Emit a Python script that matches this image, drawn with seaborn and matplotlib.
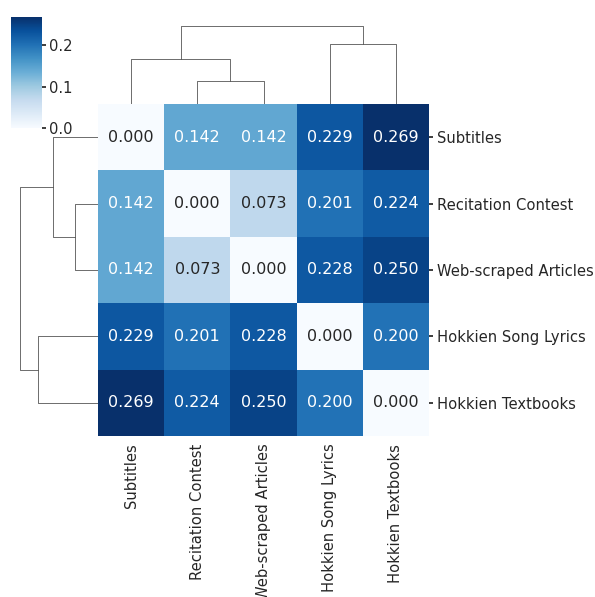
import numpy as np
import pandas as pd
import seaborn as sns
import matplotlib.pyplot as plt

# 数据
labels = ['Subtitles', 'Recitation Contest', 'Web-scraped Articles',
          'Hokkien Song Lyrics', 'Hokkien Textbooks']
subtitles = [0.000, 0.142, 0.142, 0.229, 0.269]
recitation = [0.142, 0.000, 0.073, 0.201, 0.224]
web = [0.142, 0.073, 0.000, 0.228, 0.250]
song = [0.229, 0.201, 0.228, 0.000, 0.200]
textbooks = [0.269, 0.224, 0.250, 0.200, 0.000]

df = pd.DataFrame([subtitles, recitation, web, song, textbooks],
                  index=labels, columns=labels)

sns.set_theme(style='white')

g = sns.clustermap(df, cmap='Blues', annot=True, fmt='.3f',
                   figsize=(5.95, 5.97), annot_kws={'size': 11.5})
g.ax_heatmap.tick_params(labelsize=10.6, length=3, pad=2.5)
g.cax.tick_params(labelsize=10.6, length=3, pad=2)

# 手动调整各子图位置
W, H = 595, 597
def pos(x0, y0, x1, y1):
    return [x0 / W, 1 - y1 / H, (x1 - x0) / W, (y1 - y0) / H]

g.ax_heatmap.set_position(pos(98, 104, 429, 436))
g.ax_row_dendrogram.set_position(pos(16, 104, 98, 436))
g.ax_col_dendrogram.set_position(pos(98, 22, 429, 104))
g.cax.set_position(pos(11, 17, 42, 128))

# 不用bbox tight, 保持原尺寸
g.figure.savefig('out.png', dpi=100)
